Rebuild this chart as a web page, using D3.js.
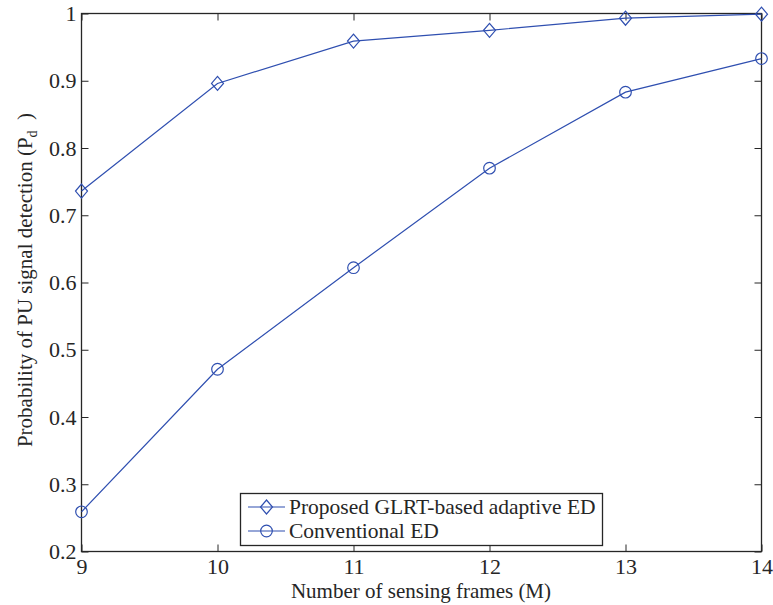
<!DOCTYPE html>
<html>
<head>
<meta charset="utf-8">
<script src="https://cdn.jsdelivr.net/npm/d3@7"></script>
<style>
  body { margin: 0; background: #fff; }
  text { font-family: "Liberation Serif", "Times New Roman", serif; fill: #262626; }
</style>
</head>
<body>
<svg id="chart" width="773" height="605"></svg>
<script>
const frames = [9, 10, 11, 12, 13, 14];
const proposedPd = [0.736, 0.896, 0.959, 0.975, 0.993, 0.999];
const conventionalPd = [0.259, 0.471, 0.622, 0.770, 0.883, 0.933];
const xTicks = [9, 10, 11, 12, 13, 14];
const yTicks = [0.2, 0.3, 0.4, 0.5, 0.6, 0.7, 0.8, 0.9, 1];
const seriesNames = ['Proposed GLRT-based adaptive ED', 'Conventional ED'];

const blue = '#2f4fb0';
const axisColor = '#262626';
const fontSize = 21;
const tickFont = 22;

const svg = d3.select('#chart');
const margin = { left: 81.5, right: 11.5, top: 13.5, bottom: 53.5 };
const W = 773, H = 605;

const x = d3.scaleLinear().domain([9, 14]).range([margin.left, W - margin.right]);
const y = d3.scaleLinear().domain([0.2, 1]).range([H - margin.bottom, margin.top]);

// ticks inside on all four sides (matlab box on)
const tickLen = 7;
const axB = d3.axisBottom(x).tickValues(xTicks).tickSizeInner(-tickLen).tickSizeOuter(0).tickPadding(7).tickFormat(d3.format('d'));
const axT = d3.axisTop(x).tickValues(xTicks).tickSizeInner(-tickLen).tickSizeOuter(0).tickFormat('');
const axL = d3.axisLeft(y).tickValues(yTicks).tickSizeInner(-tickLen).tickSizeOuter(0).tickPadding(5).tickFormat(d => d === 1 ? '1' : d3.format('.1f')(d));
const axR = d3.axisRight(y).tickValues(yTicks).tickSizeInner(-tickLen).tickSizeOuter(0).tickFormat('');

function styleAxis(g) {
  g.select('.domain').remove();
  g.selectAll('line').attr('stroke', axisColor);
  g.selectAll('text').attr('font-size', tickFont).attr('font-family', '"Liberation Serif", serif').attr('fill', axisColor);
}

svg.append('g').attr('transform', `translate(0,${y(0.2)})`).call(axB).call(styleAxis);
svg.append('g').attr('transform', `translate(0,${y(1)})`).call(axT).call(styleAxis);
svg.append('g').attr('transform', `translate(${x(9)},0)`).call(axL).call(styleAxis);
svg.append('g').attr('transform', `translate(${x(14)},0)`).call(axR).call(styleAxis);

// frame
svg.append('rect')
  .attr('x', x(9)).attr('y', y(1))
  .attr('width', x(14) - x(9)).attr('height', y(0.2) - y(1))
  .attr('fill', 'none').attr('stroke', axisColor).attr('stroke-width', 1.3);

// series
const line = d3.line().x((d, i) => x(frames[i])).y(d => y(d));

function diamond(g, cx, cy) {
  g.append('path')
    .attr('d', `M${cx},${cy - 7}L${cx + 6},${cy}L${cx},${cy + 7}L${cx - 6},${cy}Z`)
    .attr('fill', 'none').attr('stroke', blue).attr('stroke-width', 1.2);
}
function circle(g, cx, cy) {
  g.append('circle').attr('cx', cx).attr('cy', cy).attr('r', 5.8)
    .attr('fill', 'none').attr('stroke', blue).attr('stroke-width', 1.2);
}

const series = [
  { values: proposedPd, marker: diamond },
  { values: conventionalPd, marker: circle }
];

series.forEach(s => {
  const g = svg.append('g');
  g.append('path').attr('d', line(s.values))
    .attr('fill', 'none').attr('stroke', blue).attr('stroke-width', 1.2);
  s.values.forEach((v, i) => s.marker(g, x(frames[i]), y(v)));
});

// legend
const leg = svg.append('g');
leg.append('rect').attr('x', 240.5).attr('y', 493.5).attr('width', 362).attr('height', 52)
  .attr('fill', '#fff').attr('stroke', axisColor).attr('stroke-width', 1.3);
seriesNames.forEach((name, i) => {
  const ly = 507 + i * 24;
  leg.append('line').attr('x1', 248).attr('x2', 285).attr('y1', ly).attr('y2', ly)
    .attr('stroke', blue).attr('stroke-width', 1.2);
  series[i].marker(leg, 266.5, ly);
  leg.append('text').attr('x', 289).attr('y', ly + 7).attr('font-size', 21.5).text(name);
});

// axis titles
svg.append('text').attr('x', 421).attr('y', 598).attr('text-anchor', 'middle')
  .attr('font-size', fontSize).text('Number of sensing frames (M)');

const yl = svg.append('text').attr('transform', 'translate(32,280) rotate(-90)')
  .attr('text-anchor', 'middle').attr('font-size', fontSize);
yl.append('tspan').text('Probability of PU signal detection (P');
yl.append('tspan').attr('font-size', 14).attr('dy', 5).text('d');
yl.append('tspan').attr('dy', -5).text('\u2002)');
</script>
</body>
</html>
